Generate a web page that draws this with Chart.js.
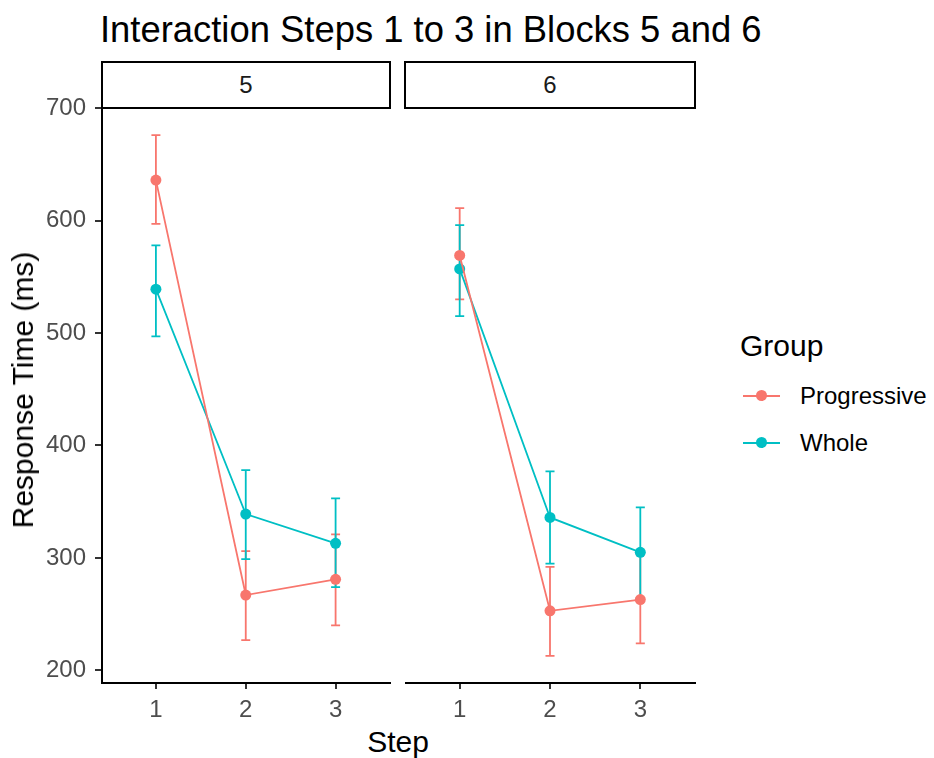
<!DOCTYPE html>
<html>
<head>
<meta charset="utf-8">
<title>Interaction Steps 1 to 3 in Blocks 5 and 6</title>
<script src="https://cdn.jsdelivr.net/npm/chart.js@4.4.0/dist/chart.umd.min.js"></script>
<style>
    body { margin: 0; background: #fff; font-family: 'Liberation Sans', Arial, sans-serif; }
    #wrap { position: relative; width: 934px; height: 758px; overflow: hidden; background: #fff; }
    canvas { position: absolute; }
    .txt { position: absolute; white-space: nowrap; line-height: 1; }
    #title { left: 100px; top: 12px; font-size: 36.4px; color: #000; }
    .strip {
        position: absolute; top: 61px; height: 48px; box-sizing: border-box;
        border: 2px solid #000; font-size: 24px; color: #1a1a1a;
        display: flex; align-items: center; justify-content: center;
    }
    #ytitle { left: 23px; top: 390px; font-size: 30px; color: #000; transform: translate(-50%, -50%) rotate(-90deg); }
    #xtitle { left: 398px; top: 742px; font-size: 30px; color: #000; transform: translate(-50%, -50%); }
    #legtitle { left: 740px; top: 346px; font-size: 30px; color: #000; transform: translateY(-50%); }
    .legitem { left: 800px; font-size: 24px; color: #000; transform: translateY(-50%); }
    .keyline { position: absolute; left: 743px; width: 37px; height: 2px; }
    .keydot { position: absolute; left: 756px; width: 11px; height: 11px; border-radius: 50%; }
</style>
</head>
<body>
<div id="wrap">
    <div id="title" class="txt">Interaction Steps 1 to 3 in Blocks 5 and 6</div>
    <div class="strip" style="left:101px; width:290px;">5</div>
    <div class="strip" style="left:404px; width:292px;">6</div>
    <canvas id="panel5" width="395" height="632" style="left:0; top:91px;"></canvas>
    <canvas id="panel6" width="300" height="632" style="left:400px; top:91px;"></canvas>
    <div id="ytitle" class="txt">Response Time (ms)</div>
    <div id="xtitle" class="txt">Step</div>
    <div id="legtitle" class="txt">Group</div>
    <div class="keyline" style="top:395px; background:#F8766D;"></div>
    <div class="keydot" style="top:390px; background:#F8766D;"></div>
    <div class="txt legitem" style="top:396px;">Progressive</div>
    <div class="keyline" style="top:442px; background:#00BFC4;"></div>
    <div class="keydot" style="top:437px; background:#00BFC4;"></div>
    <div class="txt legitem" style="top:443px;">Whole</div>
</div>
<script>
// ===================================================================
// DATA
// ===================================================================
const steps = [1, 2, 3];
const yTicks = [200, 300, 400, 500, 600, 700];
const groups = ['Progressive', 'Whole'];

// Block 5
const block5Progressive = [636, 267, 281];
const block5ProgressiveLow = [597, 227, 240];
const block5ProgressiveHigh = [676, 306, 321];
const block5Whole = [539, 339, 313];
const block5WholeLow = [497, 299, 274];
const block5WholeHigh = [578, 378, 353];

// Block 6
const block6Progressive = [569, 253, 263];
const block6ProgressiveLow = [530, 213, 224];
const block6ProgressiveHigh = [611, 292, 303];
const block6Whole = [557, 336, 305];
const block6WholeLow = [515, 295, 264];
const block6WholeHigh = [596, 377, 345];

const groupColors = ['#F8766D', '#00BFC4'];

Chart.defaults.font.family = "'Liberation Sans', Arial, sans-serif";

// error bars drawn under the lines and points
const errorBars = {
    id: 'errorBars',
    beforeDatasetsDraw(chart) {
        const { ctx, scales: { x, y } } = chart;
        const capHalf = 0.05; // same as ggplot width = 0.1
        chart.data.datasets.forEach(ds => {
            ctx.save();
            ctx.strokeStyle = ds.borderColor;
            ctx.lineWidth = 1.8;
            ds.data.forEach((p, i) => {
                const px = x.getPixelForValue(p.x);
                const x0 = x.getPixelForValue(p.x - capHalf);
                const x1 = x.getPixelForValue(p.x + capHalf);
                const yLo = y.getPixelForValue(ds.low[i]);
                const yHi = y.getPixelForValue(ds.high[i]);
                ctx.beginPath();
                ctx.moveTo(px, yLo); ctx.lineTo(px, yHi);
                ctx.moveTo(x0, yLo); ctx.lineTo(x1, yLo);
                ctx.moveTo(x0, yHi); ctx.lineTo(x1, yHi);
                ctx.stroke();
            });
            ctx.restore();
        });
    }
};

function makeDataset(label, values, low, high, color) {
    return {
        label,
        data: values.map((v, i) => ({ x: steps[i], y: v })),
        low, high,
        borderColor: color,
        backgroundColor: color,
        borderWidth: 1.8,
        pointRadius: 5.5,
        pointBorderWidth: 0,
        pointBackgroundColor: color,
        tension: 0
    };
}

function makePanel(canvasId, series, showY) {
    const ctx = document.getElementById(canvasId).getContext('2d');
    return new Chart(ctx, {
        type: 'line',
        data: {
            datasets: series.map((s, i) => makeDataset(groups[i], s.values, s.low, s.high, groupColors[i]))
        },
        options: {
            responsive: false,
            animation: false,
            layout: { padding: { top: 18, bottom: 0, left: showY ? 0 : 5, right: 5 } },
            plugins: { legend: { display: false }, tooltip: { enabled: false } },
            scales: {
                x: {
                    type: 'linear',
                    min: 0.4, max: 3.6,
                    afterBuildTicks: scale => { scale.ticks = steps.map(v => ({ value: v })); },
                    afterFit: scale => { scale.height = 40; scale.paddingLeft = 0; scale.paddingRight = 0; },
                    border: { display: true, color: '#000', width: 2 },
                    grid: { drawOnChartArea: false, drawTicks: true, tickLength: 6, color: '#333', lineWidth: 2 },
                    ticks: { font: { size: 24 }, color: '#4d4d4d', padding: 7, maxRotation: 0 }
                },
                y: {
                    type: 'linear',
                    display: showY,
                    min: 188.8, max: 699.2,
                    afterBuildTicks: scale => { scale.ticks = yTicks.map(v => ({ value: v })); },
                    afterFit: scale => { if (showY) scale.width = 102; scale.paddingTop = 0; scale.paddingBottom = 0; },
                    border: { display: true, color: '#000', width: 2 },
                    grid: { drawOnChartArea: false, drawTicks: true, tickLength: 7, color: '#333', lineWidth: 2 },
                    ticks: { font: { size: 24 }, color: '#4d4d4d', padding: 9 }
                }
            }
        },
        plugins: [errorBars]
    });
}

makePanel('panel5', [
    { values: block5Progressive, low: block5ProgressiveLow, high: block5ProgressiveHigh },
    { values: block5Whole, low: block5WholeLow, high: block5WholeHigh }
], true);

makePanel('panel6', [
    { values: block6Progressive, low: block6ProgressiveLow, high: block6ProgressiveHigh },
    { values: block6Whole, low: block6WholeLow, high: block6WholeHigh }
], false);
</script>
</body>
</html>
